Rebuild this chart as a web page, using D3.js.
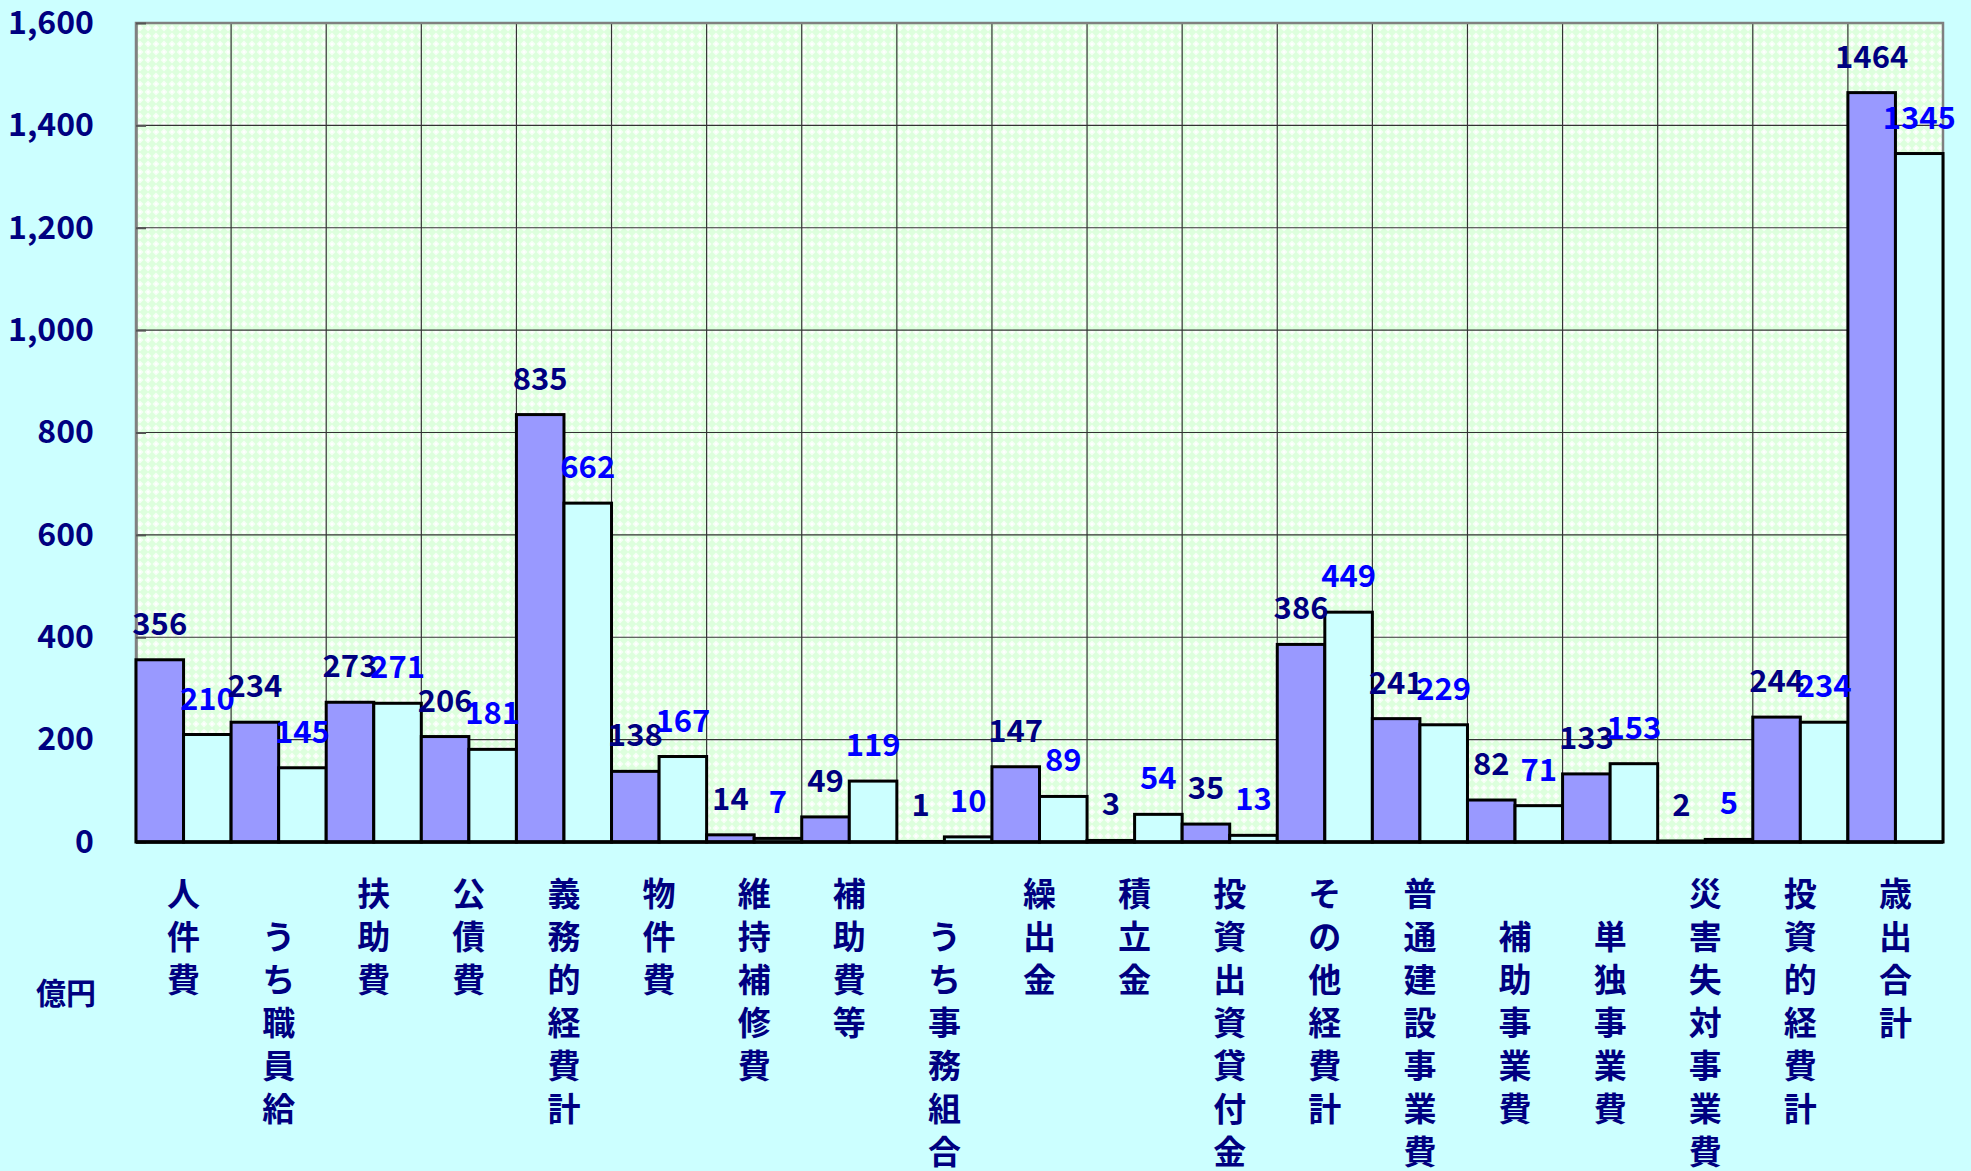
<!DOCTYPE html>
<html>
<head>
<meta charset="utf-8">
<script src="https://cdn.jsdelivr.net/npm/d3@7"></script>
<style>
  body { margin: 0; background: #CCFFFF; }
  text { font-family: "Noto Sans CJK JP", "Noto Sans", sans-serif; font-weight: 700; }
</style>
</head>
<body>
<div id="chart"></div>
<script>
// Catégories (espace pleine largeur en tête = décalage d'une ligne)
const categories = ["人件費", "　うち職員給", "扶助費", "公債費", "義務的経費計", "物件費", "維持補修費", "補助費等",
  "　うち事務組合", "繰出金", "積立金", "投資出資貸付金", "その他経費計", "普通建設事業費", "　補助事業費",
  "　単独事業費", "災害失対事業費", "投資的経費計", "歳出合計"];
const series1 = [356, 234, 273, 206, 835, 138, 14, 49, 1, 147, 3, 35, 386, 241, 82, 133, 2, 244, 1464];
const series2 = [210, 145, 271, 181, 662, 167, 7, 119, 10, 89, 54, 13, 449, 229, 71, 153, 5, 234, 1345];
const yTicks = [0, 200, 400, 600, 800, 1000, 1200, 1400, 1600];
const unitLabel = "億円";

const width = 1971;
const height = 1171;
const margin = {top: 23, right: 28, bottom: 329, left: 136};

const svg = d3.select("#chart")
  .append("svg")
  .attr("width", width)
  .attr("height", height);

svg.append("rect").attr("width", width).attr("height", height).attr("fill", "#CCFFFF");

// Motif de fond vert clair
const defs = svg.append("defs");
const pat = defs.append("pattern")
  .attr("id", "bg")
  .attr("width", 8).attr("height", 8)
  .attr("patternUnits", "userSpaceOnUse");
pat.append("rect").attr("width", 8).attr("height", 8).attr("fill", "#DDFFDD");
pat.append("path").attr("d", "M4,0.5 L7.5,4 L4,7.5 L0.5,4 Z").attr("fill", "#F6FFF6");
pat.append("rect").attr("x", 3).attr("y", 3).attr("width", 2).attr("height", 2).attr("fill", "#FFFFFF");

// Échelles
const x = d3.scaleBand()
  .domain(categories)
  .range([margin.left, width - margin.right])
  .padding(0);

const xs = d3.scaleBand()
  .domain([0, 1])
  .range([0, x.bandwidth()])
  .padding(0);

const y = d3.scaleLinear()
  .domain([0, 1600])
  .range([height - margin.bottom, margin.top]);

const plotW = width - margin.right - margin.left;
const plotH = height - margin.bottom - margin.top;

svg.append("rect")
  .attr("x", margin.left).attr("y", margin.top)
  .attr("width", plotW).attr("height", plotH)
  .attr("fill", "url(#bg)");

// Grille horizontale
svg.append("g")
  .selectAll("line")
  .data(yTicks)
  .enter()
  .append("line")
  .attr("x1", margin.left).attr("x2", width - margin.right)
  .attr("y1", d => y(d)).attr("y2", d => y(d))
  .attr("stroke", "#333")
  .attr("stroke-width", 1.2);

// Grille verticale
svg.append("g")
  .selectAll("line")
  .data(categories.slice(1))
  .enter()
  .append("line")
  .attr("x1", d => x(d)).attr("x2", d => x(d))
  .attr("y1", margin.top).attr("y2", height - margin.bottom)
  .attr("stroke", "#333")
  .attr("stroke-width", 1.2);

// Cadre
svg.append("rect")
  .attr("x", margin.left).attr("y", margin.top)
  .attr("width", plotW).attr("height", plotH)
  .attr("fill", "none")
  .attr("stroke", "#808080")
  .attr("stroke-width", 2.5);

// Axe Y
const yAxis = svg.append("g")
  .attr("transform", `translate(${margin.left}, 0)`)
  .call(d3.axisLeft(y).tickValues(yTicks).tickFormat(d3.format(",")).tickSizeInner(-10).tickSizeOuter(0).tickPadding(42));
yAxis.select(".domain").attr("stroke", "#808080").attr("stroke-width", 2.5);
yAxis.selectAll(".tick line").attr("stroke", "#555").attr("stroke-width", 2);
yAxis.selectAll("text")
  .style("font-size", "32px")
  .style("fill", "#000080");

// Barres
const rows = categories.map((c, i) => [
  {cat: c, s: 0, v: series1[i]},
  {cat: c, s: 1, v: series2[i]}
]).flat();

svg.append("g")
  .selectAll(".bar")
  .data(rows)
  .enter()
  .append("rect")
  .attr("class", "bar")
  .attr("x", d => x(d.cat) + xs(d.s))
  .attr("y", d => y(d.v))
  .attr("width", xs.bandwidth())
  .attr("height", d => y(0) - y(d.v))
  .attr("fill", d => d.s === 0 ? "#9999FF" : "#CCFFFF")
  .attr("stroke", "#000")
  .attr("stroke-width", 3);

// Ligne de base
svg.append("line")
  .attr("x1", margin.left).attr("x2", width - margin.right)
  .attr("y1", y(0)).attr("y2", y(0))
  .attr("stroke", "#000")
  .attr("stroke-width", 3.5);

// Étiquettes de valeur
svg.append("g")
  .selectAll(".label")
  .data(rows)
  .enter()
  .append("text")
  .attr("class", "label")
  .attr("x", d => x(d.cat) + xs(d.s) + xs.bandwidth() / 2)
  .attr("y", d => y(d.v) - 25)
  .attr("text-anchor", "middle")
  .style("font-size", "31px")
  .style("fill", d => d.s === 0 ? "#000080" : "#0000FF")
  .text(d => d.v);

// Libellés verticaux des catégories
const catG = svg.append("g")
  .selectAll(".cat")
  .data(categories)
  .enter()
  .append("text")
  .attr("class", "cat")
  .attr("text-anchor", "middle")
  .style("font-size", "33px")
  .style("fill", "#000080");

catG.selectAll("tspan")
  .data(d => Array.from(d).map((ch, k) => ({ch, k, cat: d})))
  .enter()
  .append("tspan")
  .attr("x", d => x(d.cat) + x.bandwidth() / 2)
  .attr("y", d => 906 + d.k * 43)
  .text(d => d.ch);

// Unité
svg.append("text")
  .attr("x", 66)
  .attr("y", 1004)
  .attr("text-anchor", "middle")
  .style("font-size", "30px")
  .style("fill", "#000080")
  .text(unitLabel);
</script>
</body>
</html>
